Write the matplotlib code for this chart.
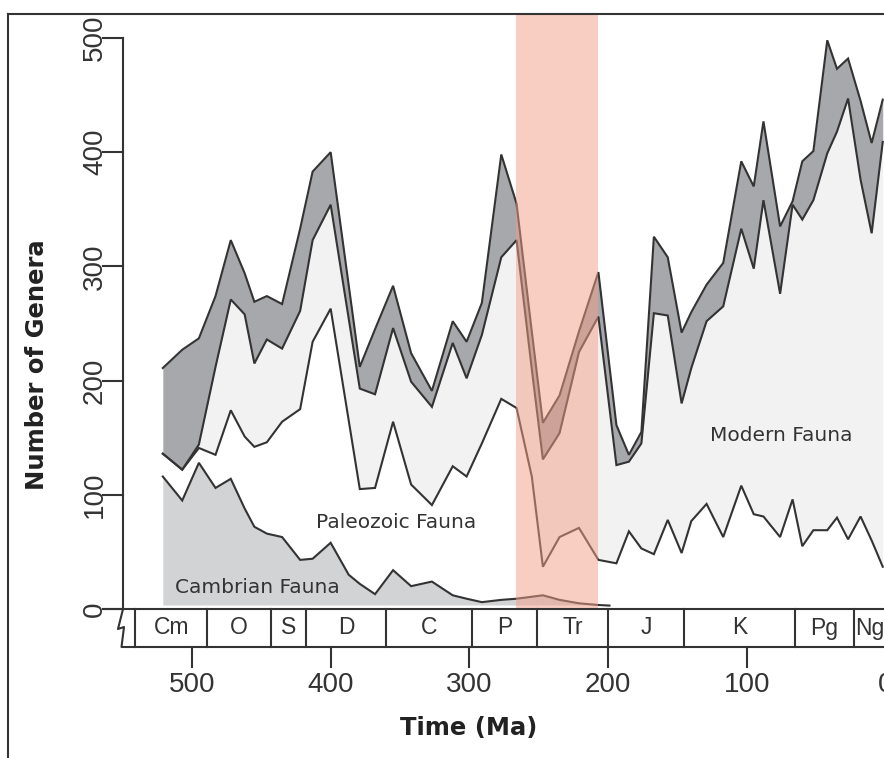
import numpy as np
import matplotlib.pyplot as plt
from matplotlib.lines import Line2D
import matplotlib.transforms as mtransforms

# ---- data ----
# Cambrian fauna, bottom layer
t_camb = [521, 507, 495, 483, 472, 462, 455, 446, 435, 422, 413, 400, 387, 379,
          368, 355, 342, 327, 312, 302, 291, 277, 266, 247, 235, 221, 207, 199]
camb = [116, 95, 128, 106, 114, 88, 72, 66, 63, 43, 44, 58, 30, 22,
        13, 34, 20, 24, 12, 9, 6, 8, 9, 12, 8, 5, 3.5, 3]

# cumulative curves: Cambrian+Paleozoic, +Modern, +unassigned (total)
t = [521, 507, 495, 483, 472, 462, 455, 446, 435, 422, 413, 400, 379, 368, 355,
     342, 327, 312, 302, 291, 277, 266, 255, 247, 235, 221, 207, 194, 185, 176,
     167, 157, 147, 140, 129, 117, 104, 95, 88, 76, 67, 60, 52, 42, 35, 27, 18, 10, 2]
paleo_top = [136, 122, 141, 135, 174, 151, 142, 146, 164, 175,
             234, 263, 105, 106, 164, 109, 91, 125, 116, 145,
             184, 176, 116, 37, 63, 71, 43, 40, 68, 53,
             48, 78, 49, 77, 92, 63, 108, 83, 81, 63,
             96, 55, 69, 69, 80, 61, 81, 60, 37]
modern_top = [136, 122, 144, 212, 271, 258, 215, 236, 228, 261,
              323, 354, 193, 188, 246, 199, 177, 233, 202, 240,
              308, 323, 210, 131, 154, 225, 256, 126, 129, 145,
              259, 257, 180, 211, 252, 265, 333, 298, 358, 276,
              354, 341, 358, 399, 418, 447, 376, 329, 409]
total = [211, 227, 237, 274, 323, 294, 269, 274, 267, 333,
         383, 400, 212, 245, 283, 224, 191, 252, 234, 268,
         398, 355, 243, 163, 187, 243, 295, 161, 135, 155,
         326, 308, 242, 260, 284, 303, 392, 370, 427, 335,
         357, 392, 401, 498, 473, 482, 445, 408, 446]

periods = ['Cm', 'O', 'S', 'D', 'C', 'P', 'Tr', 'J', 'K', 'Pg', 'Ng']
bounds = [541, 489, 443, 418, 360, 298, 251, 200, 145, 65, 23, 0]
xticks = [500, 400, 300, 200, 100, 0]
yticks = [0, 100, 200, 300, 400, 500]
band = (266.6, 207.0)

# ---- figure ----
W, H = 884, 758
fig = plt.figure(figsize=(W / 100, H / 100), dpi=100)

def fx(px):
    return px / W

def fy(py):
    return 1 - py / H

ink = '#333333'
lw = 1.5

ax = fig.add_axes([fx(123), fy(609), 1 - fx(123), fy(14) - fy(609)])
ax.set_xlim(549.7, 1.1)
ax.set_ylim(0, 521)
ax.axis('off')

ax.fill_between(t_camb, 3.5, camb, color='#d2d3d5', lw=0, zorder=1)
ax.fill_between(t, paleo_top, modern_top, color='#f2f2f2', lw=0, zorder=1)
ax.fill_between(t, modern_top, total, color='#a7a8ab', lw=0, zorder=1)
for xs, ys in [(t_camb, camb), (t, paleo_top), (t, modern_top), (t, total)]:
    ax.plot(xs, ys, color=ink, lw=lw, solid_joinstyle='miter', zorder=3)

ax.axvspan(band[0], band[1], color='#f39d87', alpha=0.5, lw=0, zorder=5)

ax.text(452.8, 19, 'Cambrian Fauna', fontsize=14.5, color=ink, ha='center', va='center', zorder=6)
ax.text(352.9, 75.5, 'Paleozoic Fauna', fontsize=14.5, color=ink, ha='center', va='center', zorder=6)
ax.text(75.3, 152, 'Modern Fauna', fontsize=14.5, color=ink, ha='center', va='center', zorder=6)

# y axis
ty = mtransforms.blended_transform_factory(fig.transFigure, ax.transData)
fig.add_artist(Line2D([fx(123), fx(123)], [0, 500], transform=ty, color=ink, lw=lw))
for v in yticks:
    fig.add_artist(Line2D([fx(103), fx(123)], [v, v], transform=ty, color=ink, lw=lw))
    fig.text(fx(95), v, str(v), transform=ty, rotation=90, ha='center', va='center',
             fontsize=20, family='Liberation Sans', color=ink)
fig.text(fx(37), fy(365), 'Number of Genera', rotation=90, ha='center', va='center',
         fontsize=17.5, fontweight='bold', color='#222222')

# x axis with time scale
tx = mtransforms.blended_transform_factory(ax.transData, fig.transFigure)
fig.add_artist(Line2D([fx(103), 1], [fy(609), fy(609)], color=ink, lw=lw))
fig.add_artist(Line2D([fx(123), fx(118), fx(124), fx(121.5), 1],
                      [fy(609), fy(629), fy(627), fy(647), fy(647)], color=ink, lw=lw))
for b in bounds:
    fig.add_artist(Line2D([b, b], [fy(609), fy(647)], transform=tx, color=ink, lw=lw))
for i, name in enumerate(periods):
    mid = 0.5 * (bounds[i] + bounds[i + 1])
    fig.text(mid, fy(628), name, transform=tx, ha='center', va='center',
             fontsize=16.5, family='Liberation Sans', color=ink)
for v in xticks:
    fig.add_artist(Line2D([v, v], [fy(647), fy(667)], transform=tx, color=ink, lw=lw))
    fig.text(v, fy(685), str(v), transform=tx, ha='center', va='center',
             fontsize=20, family='Liberation Sans', color=ink)
fig.text(fx(469), fy(728), 'Time (Ma)', ha='center', va='center',
         fontsize=17.5, fontweight='bold', color='#222222')

# outer frame
fig.add_artist(Line2D([fx(8), 1], [fy(14), fy(14)], color=ink, lw=lw))
fig.add_artist(Line2D([fx(8), fx(8)], [fy(14), 0], color=ink, lw=lw))

fig.savefig('out.png', dpi=100)
